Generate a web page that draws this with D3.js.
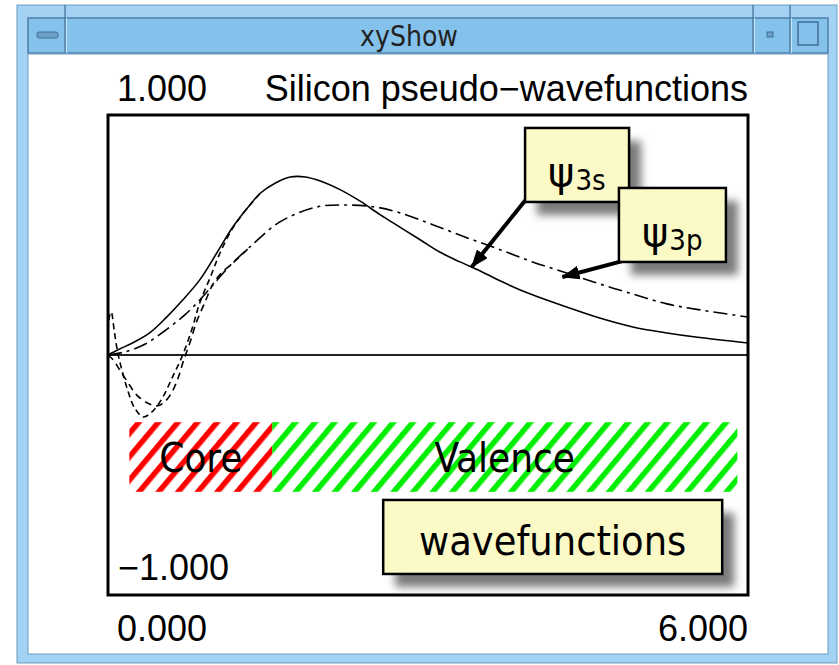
<!DOCTYPE html>
<meta charset="utf-8">
<style>

body {
  margin: 0;
  background: #fff;
}

svg {
  display: block;
}

.lbl {
  font-family: "Liberation Sans", Arial, sans-serif;
  font-size: 36px;
  fill: #000;
}

.note {
  font-family: "DejaVu Sans Condensed", "DejaVu Sans", sans-serif;
  font-stretch: condensed;
  fill: #000;
}

.curve {
  fill: none;
  stroke: #000;
  stroke-width: 1.6px;
}

</style>
<body></body>
<script src="https://cdn.jsdelivr.net/npm/d3@7"></script>
<script>

// pseudo 3s (solid)
var r3s   = [0, 0.11, 0.23, 0.39, 0.55, 0.70, 0.86, 1.02, 1.17, 1.33, 1.43, 1.57, 1.71, 1.85, 1.99, 2.18, 2.36, 2.55, 2.74, 2.93, 3.11, 3.30, 3.49, 3.68, 3.96, 4.30, 4.61, 4.92, 5.24, 5.51, 6.00];
var psi3s = [0, 0.025, 0.05, 0.092, 0.158, 0.229, 0.313, 0.425, 0.533, 0.625, 0.675, 0.717, 0.742, 0.742, 0.725, 0.688, 0.642, 0.585, 0.532, 0.479, 0.429, 0.388, 0.35, 0.308, 0.254, 0.2, 0.154, 0.117, 0.092, 0.075, 0.05];

// pseudo 3p (dash-dot)
var r3p   = [0, 0.16, 0.35, 0.53, 0.72, 0.86, 1.00, 1.14, 1.33, 1.61, 1.96, 2.22, 2.50, 2.74, 3.05, 3.37, 3.68, 3.98, 4.30, 4.61, 4.92, 5.24, 5.55, 6.00];
var psi3p = [0, 0.013, 0.046, 0.1, 0.167, 0.229, 0.3, 0.371, 0.45, 0.554, 0.617, 0.625, 0.617, 0.592, 0.542, 0.488, 0.438, 0.388, 0.342, 0.296, 0.254, 0.213, 0.188, 0.158];

// all-electron 3s (dashed)
var rAe3s = [0, 0.01, 0.03, 0.06, 0.09, 0.13, 0.19, 0.25, 0.33, 0.41, 0.51, 0.60, 0.70, 0.79, 0.86, 0.96, 1.05, 1.17, 1.33, 1.43];
var ae3s  = [0.062, 0.154, 0.179, 0.096, 0.013, -0.062, -0.154, -0.221, -0.258, -0.238, -0.179, -0.096, 0, 0.112, 0.217, 0.325, 0.425, 0.529, 0.625, 0.675];

// all-electron 3p (dashed)
var rAe3p = [0, 0.05, 0.11, 0.19, 0.27, 0.37, 0.46, 0.53, 0.60, 0.66, 0.71, 0.77, 0.83, 0.91, 0.98, 1.07, 1.14, 1.33];
var ae3p  = [0, -0.021, -0.062, -0.117, -0.167, -0.2, -0.212, -0.196, -0.154, -0.092, -0.021, 0.054, 0.138, 0.221, 0.292, 0.346, 0.371, 0.45];

var regionNames = ["Core", "Valence"];
var regionFrom  = [0.2, 1.54];
var regionTo    = [1.54, 5.9];
var regionTop   = -0.28,
    regionBot   = -0.57;

var xTicks = [0, 6];
var yTicks = [1, -1];
var plotTitle = "Silicon pseudo\u2212wavefunctions";
var windowTitle = "xyShow";

var width = 839,
    height = 665;

var svg = d3.select("body").append("svg")
    .attr("width", width)
    .attr("height", height);

var defs = svg.append("defs");

defs.append("filter")
    .attr("id", "blur")
    .attr("x", "-20%").attr("y", "-20%")
    .attr("width", "140%").attr("height", "140%")
  .append("feGaussianBlur")
    .attr("stdDeviation", 4.5);

function hatch(id, color) {
  var p = defs.append("pattern")
      .attr("id", id)
      .attr("patternUnits", "userSpaceOnUse")
      .attr("width", 15)
      .attr("height", 15)
      .attr("patternTransform", "rotate(40)");
  p.append("rect").attr("width", 15).attr("height", 15).attr("fill", "#fff");
  p.append("rect").attr("width", 5.5).attr("height", 15).attr("fill", color);
}
hatch("hatchRed", "#ff0000");
hatch("hatchGreen", "#00ee00");

defs.append("marker")
    .attr("id", "arrow")
    .attr("markerUnits", "userSpaceOnUse")
    .attr("viewBox", "0 0 18 14")
    .attr("refX", 17).attr("refY", 7)
    .attr("markerWidth", 18).attr("markerHeight", 14)
    .attr("orient", "auto")
  .append("path")
    .attr("d", "M0,0L18,7L0,14Z")
    .attr("fill", "#000");

// window frame
var frame = svg.append("g");
frame.append("rect")
    .attr("x", 17).attr("y", 5).attr("width", 820).attr("height", 658)
    .attr("fill", "#a3d2f3").attr("stroke", "#6b9cc2").attr("stroke-width", 1);
frame.append("rect")
    .attr("x", 28).attr("y", 18).attr("width", 800).attr("height", 35)
    .attr("fill", "#84c2ec").attr("stroke", "#4f7fa6").attr("stroke-width", 1.5);
frame.append("rect")
    .attr("x", 28).attr("y", 54).attr("width", 800).attr("height", 600)
    .attr("fill", "#fff").attr("stroke", "#6b9cc2").attr("stroke-width", 1);
[65, 753, 790].forEach(function(d) {
  frame.append("line")
      .attr("x1", d).attr("x2", d).attr("y1", 5).attr("y2", 53)
      .attr("stroke", "#4f7fa6").attr("stroke-width", 1.5);
  frame.append("line")
      .attr("x1", d + 1.5).attr("x2", d + 1.5).attr("y1", 18).attr("y2", 53)
      .attr("stroke", "#c9e6fa").attr("stroke-width", 1);
});
frame.append("rect")
    .attr("x", 37).attr("y", 32).attr("width", 21).attr("height", 6).attr("rx", 2)
    .attr("fill", "#6d9fc6").attr("stroke", "#3f6f96");
frame.append("rect")
    .attr("x", 767).attr("y", 32).attr("width", 6).attr("height", 5)
    .attr("fill", "#6d9fc6").attr("stroke", "#3f6f96");
frame.append("rect")
    .attr("x", 798).attr("y", 22).attr("width", 20).attr("height", 23)
    .attr("fill", "none").attr("stroke", "#3f6f96").attr("stroke-width", 1.5);
frame.append("text")
    .attr("class", "note")
    .attr("x", 409).attr("y", 46)
    .attr("text-anchor", "middle")
    .style("font-size", "28px")
    .style("fill", "#222")
    .text(windowTitle);

// plot
var x = d3.scaleLinear().domain([0, 6]).range([108, 748]),
    y = d3.scaleLinear().domain([-1, 1]).range([595, 115]);
var fmt = d3.format(".3f");

svg.append("line")
    .attr("x1", x(0)).attr("x2", x(6))
    .attr("y1", y(0)).attr("y2", y(0))
    .attr("stroke", "#222").attr("stroke-width", 2);

var line = d3.line()
    .x(function(d) { return x(d[0]); })
    .y(function(d) { return y(d[1]); })
    .curve(d3.curveCatmullRom.alpha(0.5));

function pairs(a, b) { return a.map(function(v, i) { return [v, b[i]]; }); }

var curves = [
  {data: pairs(rAe3s, ae3s), dash: "6,4"},
  {data: pairs(rAe3p, ae3p), dash: "7,5"},
  {data: pairs(r3p, psi3p), dash: "14,5,3,5"},
  {data: pairs(r3s, psi3s), dash: null}
];

svg.append("g").selectAll("path")
  .data(curves)
  .enter().append("path")
    .attr("class", "curve")
    .attr("stroke-dasharray", function(d) { return d.dash; })
    .attr("d", function(d) { return line(d.data); });

// regions
var reg = svg.append("g").selectAll("g")
  .data(regionNames)
  .enter().append("g");
reg.append("rect")
    .attr("x", function(d, i) { return x(regionFrom[i]); })
    .attr("width", function(d, i) { return x(regionTo[i]) - x(regionFrom[i]); })
    .attr("y", y(regionTop))
    .attr("height", y(regionBot) - y(regionTop))
    .attr("fill", function(d, i) { return i == 0 ? "url(#hatchRed)" : "url(#hatchGreen)"; });
reg.append("text")
    .attr("class", "note")
    .attr("x", function(d, i) { return (x(regionFrom[i]) + x(regionTo[i])) / 2; })
    .attr("y", (y(regionTop) + y(regionBot)) / 2 + 15)
    .attr("text-anchor", "middle")
    .style("font-size", "40px")
    .text(function(d) { return d; });

svg.append("rect")
    .attr("x", x(0)).attr("y", y(1))
    .attr("width", x(6) - x(0)).attr("height", y(-1) - y(1))
    .attr("fill", "none").attr("stroke", "#000").attr("stroke-width", 3);

// labels
svg.append("text").attr("class", "lbl")
    .attr("x", 117).attr("y", 101).text(fmt(yTicks[0]));
svg.append("text").attr("class", "lbl")
    .attr("x", 748).attr("y", 101).attr("text-anchor", "end").text(plotTitle);
svg.append("text").attr("class", "lbl")
    .attr("x", 118).attr("y", 580).text(fmt(yTicks[1]));
svg.append("text").attr("class", "lbl")
    .attr("x", 117).attr("y", 641).text(fmt(xTicks[0]));
svg.append("text").attr("class", "lbl")
    .attr("x", 748).attr("y", 641).attr("text-anchor", "end").text(fmt(xTicks[1]));

// callouts
var notes = [
  {main: "\u03c8", sub: "3s", bx: 3.91, by: 0.946, w: 104, h: 74, tail: [3.93, 0.654], tip: [3.41, 0.367]},
  {main: "\u03c8", sub: "3p", bx: 4.79, by: 0.696, w: 107, h: 74, tail: [4.83, 0.392], tip: [4.26, 0.325]},
  {main: "wavefunctions", sub: null, bx: 2.58, by: -0.604, w: 339, h: 74}
];

function drawBox(d) {
  var g = svg.append("g");
  g.append("rect")
      .attr("x", x(d.bx) + 12).attr("y", y(d.by) + 13)
      .attr("width", d.w).attr("height", d.h)
      .attr("fill", "#7a7a7a").attr("filter", "url(#blur)");
  g.append("rect")
      .attr("x", x(d.bx)).attr("y", y(d.by))
      .attr("width", d.w).attr("height", d.h)
      .attr("fill", "#fbf9c6").attr("stroke", "#000").attr("stroke-width", 2.5);
  var t = g.append("text").attr("class", "note");
  if (d.sub) {
    t.attr("x", x(d.bx) + 23).attr("y", y(d.by) + 58);
    t.append("tspan")
        .style("font-family", "'DejaVu Sans', sans-serif")
        .style("font-stretch", "normal")
        .style("font-size", "40px")
        .text(d.main);
    t.append("tspan").style("font-size", "29px").attr("dy", 4).attr("dx", 1).text(d.sub);
  } else {
    t.attr("x", x(d.bx) + d.w / 2).attr("y", y(d.by) + 55)
      .attr("text-anchor", "middle")
      .style("font-size", "41px")
      .text(d.main);
  }
  return g;
}

notes.forEach(function(d) {
  if (d.tip) {
    svg.append("line")
        .attr("x1", x(d.tail[0])).attr("y1", y(d.tail[1]))
        .attr("x2", x(d.tip[0])).attr("y2", y(d.tip[1]))
        .attr("stroke", "#000").attr("stroke-width", 4)
        .attr("marker-end", "url(#arrow)");
  }
});
notes.forEach(drawBox);

</script>
